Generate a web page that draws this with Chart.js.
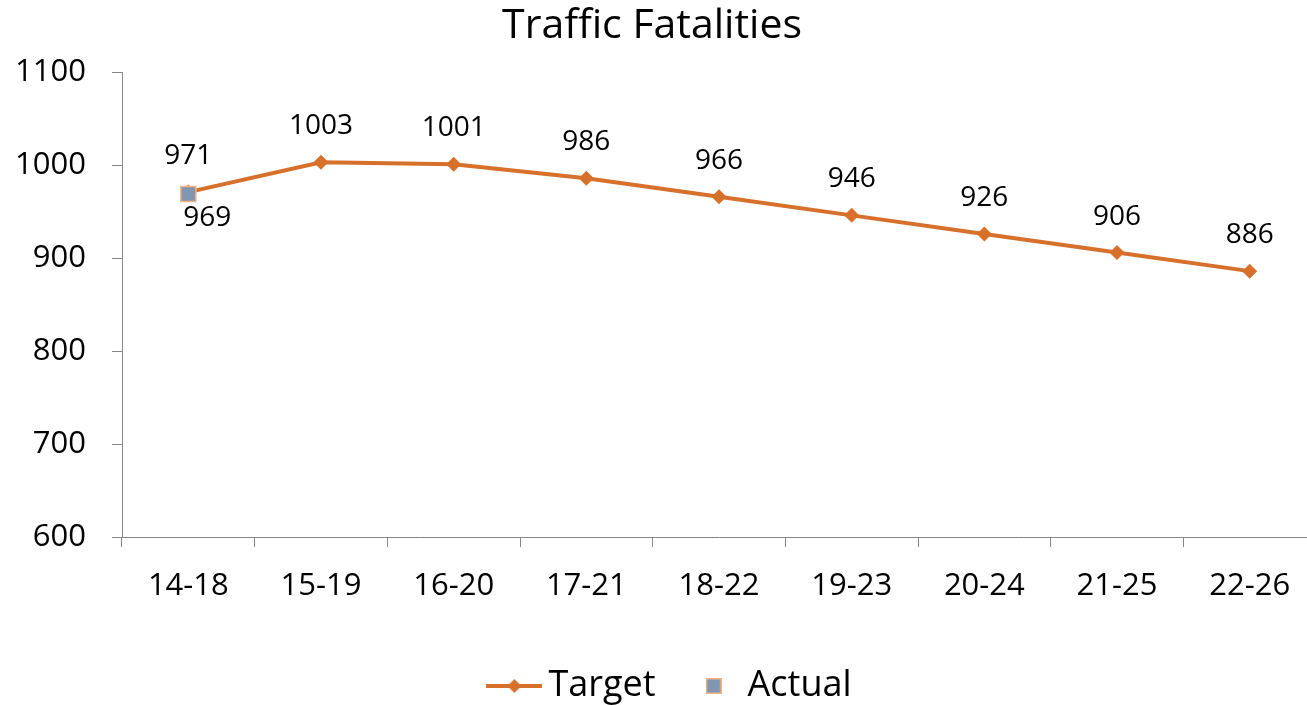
<!DOCTYPE html>
<html>
<head>
<meta charset="utf-8">
<script src="https://cdn.jsdelivr.net/npm/chart.js@4"></script>
<style>
html, body { margin: 0; padding: 0; background: #fff; overflow: hidden; }
#wrap { width: 1330px; height: 714px; }
</style>
</head>
<body>
<div id="wrap"><canvas id="fatalChart" width="1330" height="714"></canvas></div>
<script>
const periods = ['14-18', '15-19', '16-20', '17-21', '18-22', '19-23', '20-24', '21-25', '22-26'];
const targetValues = [971, 1003, 1001, 986, 966, 946, 926, 906, 886];
const actualValues = [969, null, null, null, null, null, null, null, null];
const yMin = 600, yMax = 1100, yStep = 100;

const lineColor = '#D6702B';
const actualFill = '#8196B1';
const actualBorder = '#F4B183';
const axisColor = '#868686';
const fontFamily = '"Open Sans", "DejaVu Sans", sans-serif';

// legend icons drawn on small canvases (line + diamond, square)
function targetIcon() {
    const c = document.createElement('canvas');
    c.width = 56; c.height = 16;
    const g = c.getContext('2d');
    g.strokeStyle = lineColor; g.lineWidth = 4;
    g.beginPath(); g.moveTo(0, 8); g.lineTo(56, 8); g.stroke();
    g.fillStyle = lineColor;
    g.beginPath(); g.moveTo(28, 1); g.lineTo(35, 8); g.lineTo(28, 15); g.lineTo(21, 8); g.closePath(); g.fill();
    return c;
}
function actualIcon() {
    const c = document.createElement('canvas');
    c.width = 16; c.height = 16;
    const g = c.getContext('2d');
    g.fillStyle = actualBorder; g.fillRect(0, 0, 16, 16);
    g.fillStyle = actualFill; g.fillRect(1.5, 1.5, 13, 13);
    return c;
}

const valueLabels = {
    id: 'valueLabels',
    afterDatasetsDraw(chart) {
        const ctx = chart.ctx;
        ctx.save();
        ctx.font = '28px ' + fontFamily;
        ctx.fillStyle = '#000';
        ctx.textAlign = 'center';
        ctx.textBaseline = 'alphabetic';
        chart.data.datasets.forEach((ds, i) => {
            const meta = chart.getDatasetMeta(i);
            const off = ds.labelOffset;
            meta.data.forEach((pt, j) => {
                const v = ds.data[j];
                if (v == null) return;
                ctx.fillText(String(v), pt.x + off.x, pt.y + off.y);
            });
        });
        ctx.restore();
    }
};

// nudge title and legend sideways (plot area runs past the visible window)
const boxNudge = {
    id: 'boxNudge',
    afterLayout(chart) {
        chart.titleBlock.left -= 6; chart.titleBlock.right -= 6;
        chart.legend.left += 17; chart.legend.right += 17;
    }
};

const ctx = document.getElementById('fatalChart').getContext('2d');
const chart = new Chart(ctx, {
    type: 'line',
    data: {
        labels: periods,
        datasets: [
            {
                label: 'Target', data: targetValues, borderColor: lineColor, backgroundColor: lineColor,
                borderWidth: 4, tension: 0, pointStyle: 'rectRot', pointRadius: 7.5,
                pointBackgroundColor: lineColor, pointBorderColor: lineColor, pointBorderWidth: 0,
                order: 1, labelOffset: { x: 0, y: -28 }
            },
            {
                label: 'Actual', data: actualValues, showLine: false, pointStyle: 'rect', pointRadius: 10.6,
                pointBackgroundColor: actualFill, pointBorderColor: actualBorder, pointBorderWidth: 1.5,
                borderColor: actualBorder, backgroundColor: actualFill,
                order: 0, labelOffset: { x: 19, y: 32 }
            }
        ]
    },
    options: {
        responsive: false,
        animation: false,
        layout: { padding: { left: 0, right: 14, top: 0, bottom: 0 } },
        scales: {
            x: {
                offset: true,
                grid: { offset: true, drawOnChartArea: false, drawTicks: true, tickLength: 10, color: axisColor, lineWidth: 1 },
                border: { display: true, color: axisColor, width: 1 },
                ticks: { color: '#000', padding: 21, font: { size: 31, family: fontFamily }, maxRotation: 0, autoSkip: false },
                afterFit: (s) => { s.height = 89; }
            },
            y: {
                min: yMin, max: yMax,
                grid: { drawOnChartArea: false, drawTicks: true, tickLength: 10, color: axisColor, lineWidth: 1 },
                border: { display: true, color: axisColor, width: 1 },
                ticks: { stepSize: yStep, color: '#000', padding: 26, font: { size: 31, family: fontFamily }, callback: (v) => String(v) },
                afterFit: (s) => { s.width = 122; }
            }
        },
        plugins: {
            title: {
                display: true, text: 'Traffic Fatalities', color: '#000',
                font: { size: 41, family: fontFamily, weight: 'normal' },
                padding: { top: 2, bottom: 21 }
            },
            legend: {
                position: 'bottom',
                labels: {
                    color: '#000', font: { size: 36, family: fontFamily }, usePointStyle: true,
                    pointStyleWidth: 32, padding: 42,
                    sort: (a, b) => a.datasetIndex - b.datasetIndex,
                    generateLabels: (ch) => {
                        const items = Chart.defaults.plugins.legend.labels.generateLabels(ch);
                        items.forEach((it) => {
                            it.pointStyle = it.datasetIndex === 0 ? targetIcon() : actualIcon();
                        });
                        return items;
                    }
                }
            },
            tooltip: { enabled: false }
        }
    },
    plugins: [valueLabels, boxNudge]
});
</script>
</body>
</html>
